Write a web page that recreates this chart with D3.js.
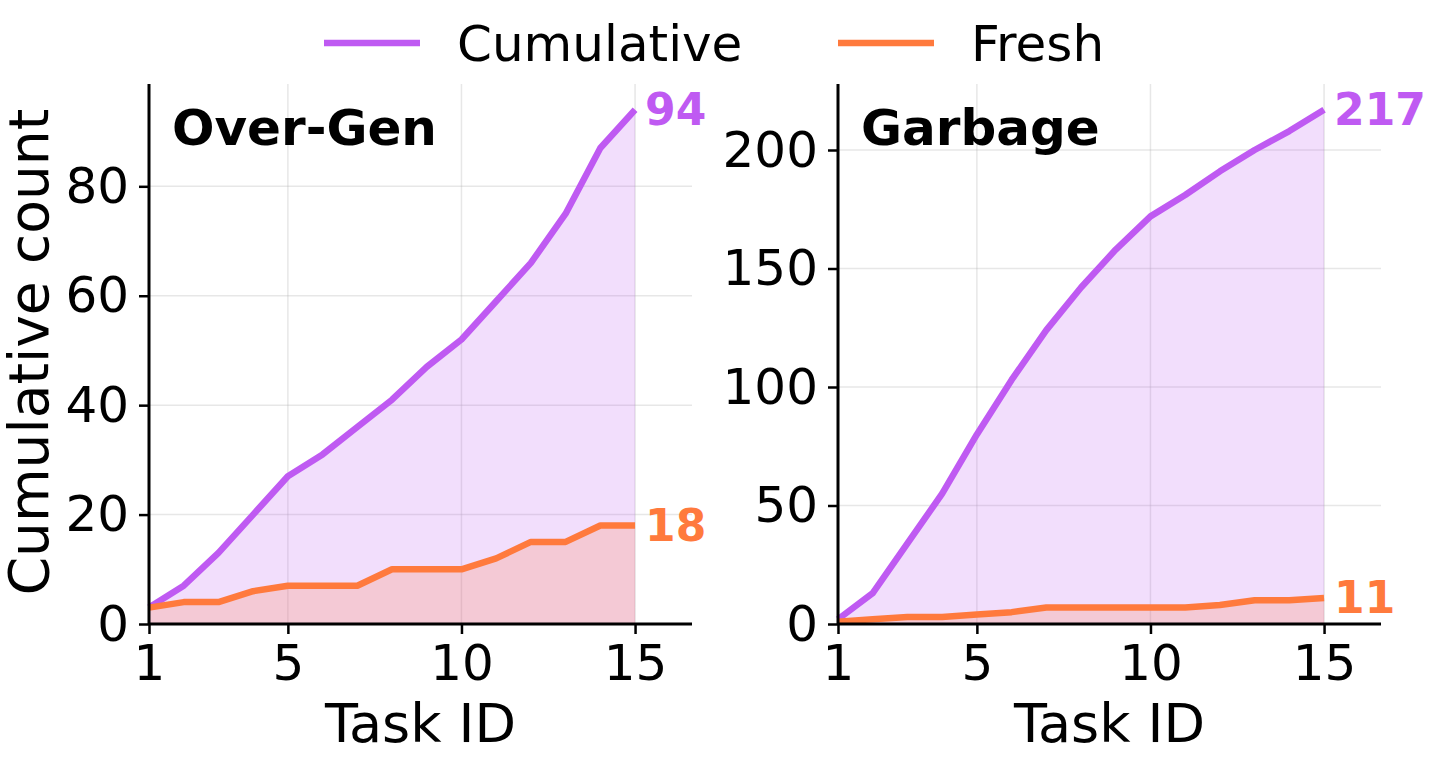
<!DOCTYPE html>
<html>
<head>
<meta charset="utf-8">
<script src="https://cdn.jsdelivr.net/npm/d3@7"></script>
<style>
  body { margin: 0; background: #fff; }
  svg { display: block; font-family: "DejaVu Sans", sans-serif; }
</style>
</head>
<body>
<svg id="chart" width="1432" height="758"></svg>
<script>
// data
const taskIds = d3.range(1, 16);
const overGenCumulative = [3, 7, 13, 20, 27, 31, 36, 41, 47, 52, 59, 66, 75, 87, 94];
const overGenFresh = [3, 4, 4, 6, 7, 7, 7, 10, 10, 10, 12, 15, 15, 18, 18];
const garbageCumulative = [2, 13, 34, 55, 80, 103, 124, 142, 158, 172, 181, 191, 200, 208, 217];
const garbageFresh = [1, 2, 3, 3, 4, 5, 7, 7, 7, 7, 7, 8, 10, 10, 11];
const overGenTicks = [0, 20, 40, 60, 80];
const garbageTicks = [0, 50, 100, 150, 200];
const xTicks = [1, 5, 10, 15];
const seriesNames = ["Cumulative", "Fresh"];

const purple = "#bf5af2";
const orange = "#ff7a3d";

const svg = d3.select("#chart");

const panels = [
  { title: "Over-Gen", cum: overGenCumulative, fresh: overGenFresh, yTicks: overGenTicks, left: 149 },
  { title: "Garbage", cum: garbageCumulative, fresh: garbageFresh, yTicks: garbageTicks, left: 838 }
];

const plotTop = 84, plotBottom = 624, plotW = 543;

panels.forEach((p, idx) => {
  const g = svg.append("g").attr("transform", `translate(${p.left},0)`);

  const x = d3.scaleLinear().domain([1, 16.64]).range([0, plotW]);
  const yMax = d3.max(p.cum) * 1.05;
  const y = d3.scaleLinear().domain([0, yMax]).range([plotBottom, plotTop]);

  // grid
  g.append("g").selectAll("line").data(p.yTicks).enter().append("line")
    .attr("x1", 0).attr("x2", plotW)
    .attr("y1", d => y(d)).attr("y2", d => y(d))
    .attr("stroke", "#b0b0b0").attr("stroke-opacity", 0.3).attr("stroke-width", 1.5);
  g.append("g").selectAll("line").data(xTicks).enter().append("line")
    .attr("x1", d => x(d)).attr("x2", d => x(d))
    .attr("y1", plotTop).attr("y2", plotBottom)
    .attr("stroke", "#b0b0b0").attr("stroke-opacity", 0.3).attr("stroke-width", 1.5);

  const pts = s => taskIds.map((t, i) => ({ t, v: s[i] }));

  const area = d3.area().x(d => x(d.t)).y0(y(0)).y1(d => y(d.v));
  const line = d3.line().x(d => x(d.t)).y(d => y(d.v));

  g.append("path").datum(pts(p.cum)).attr("d", area)
    .attr("fill", purple).attr("fill-opacity", 0.2);
  g.append("path").datum(pts(p.fresh)).attr("d", area)
    .attr("fill", orange).attr("fill-opacity", 0.2);

  g.append("path").datum(pts(p.cum)).attr("d", line)
    .attr("fill", "none").attr("stroke", purple).attr("stroke-width", 6.5)
    .attr("stroke-linejoin", "round");
  g.append("path").datum(pts(p.fresh)).attr("d", line)
    .attr("fill", "none").attr("stroke", orange).attr("stroke-width", 6.5)
    .attr("stroke-linejoin", "round");

  // axes
  const xAxis = g.append("g").attr("transform", `translate(0,${plotBottom})`)
    .call(d3.axisBottom(x).tickValues(xTicks).tickSize(10).tickPadding(10));
  const yAxis = g.append("g")
    .call(d3.axisLeft(y).tickValues(p.yTicks).tickSize(10).tickPadding(10));
  [xAxis, yAxis].forEach(a => {
    a.select(".domain").attr("stroke", "#000").attr("stroke-width", 3);
    a.selectAll(".tick line").attr("stroke", "#000").attr("stroke-width", 2.5);
    a.selectAll(".tick text").attr("fill", "#000")
      .style("font-family", "DejaVu Sans").style("font-size", "50px");
  });
  // spines without the end ticks
  xAxis.select(".domain").attr("d", `M0,0H${plotW}`);
  yAxis.select(".domain").attr("d", `M0,${plotBottom}V${plotTop}`);

  g.append("text").attr("x", plotW / 2).attr("y", 742)
    .attr("text-anchor", "middle").style("font-size", "54px").text("Task ID");

  g.append("text").attr("x", 23).attr("y", 145)
    .style("font-size", "50px").style("font-weight", "bold").text(p.title);

  // end labels
  const last = taskIds.length - 1;
  g.append("text").attr("x", x(taskIds[last]) + 10).attr("y", y(p.cum[last]))
    .attr("dominant-baseline", "central").attr("fill", purple)
    .style("font-size", "44px").style("font-weight", "bold").text(p.cum[last]);
  g.append("text").attr("x", x(taskIds[last]) + 10).attr("y", y(p.fresh[last]))
    .attr("dominant-baseline", "central").attr("fill", orange)
    .style("font-size", "44px").style("font-weight", "bold").text(p.fresh[last]);

  if (idx === 0) {
    svg.append("text")
      .attr("transform", `translate(48,${(plotTop + plotBottom) / 2 - 2}) rotate(-90)`)
      .attr("text-anchor", "middle").style("font-size", "55px").text("Cumulative count");
  }
});

// legend
const legend = svg.append("g");
const legendX = [324, 838];
seriesNames.forEach((name, i) => {
  legend.append("line").attr("x1", legendX[i]).attr("x2", legendX[i] + 96)
    .attr("y1", 43).attr("y2", 43)
    .attr("stroke", i === 0 ? purple : orange).attr("stroke-width", 6.5);
  legend.append("text").attr("x", legendX[i] + 133).attr("y", 61)
    .style("font-size", "50px").text(name);
});
</script>
</body>
</html>
